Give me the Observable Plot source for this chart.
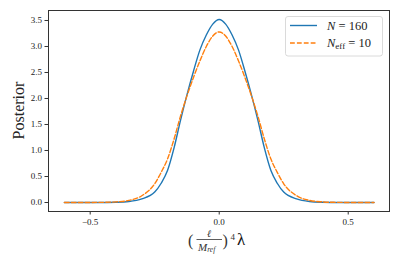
<!DOCTYPE html>
<html><head><meta charset="utf-8">
<script src="https://cdn.jsdelivr.net/npm/d3@7"></script>
<script src="https://cdn.jsdelivr.net/npm/@observablehq/plot@0.6"></script>
<style>body{margin:0;background:#fff;} svg{display:block}</style>
</head><body><div id="chart"></div>
<script>
// x values: (ℓ/M_ref)^4 λ
const lambda = [-0.6,-0.55,-0.5,-0.45,-0.4,-0.35,-0.3,-0.25,-0.225,-0.2,-0.175,-0.15,-0.125,-0.1,-0.075,-0.05,-0.025,
  0,
  0.025,0.05,0.075,0.1,0.125,0.15,0.175,0.2,0.225,0.25,0.3,0.35,0.4,0.45,0.5,0.55,0.6];
// Posterior, N = 160 (solid blue)
const posteriorN160 = [0,0,0,0.001,0.005,0.02,0.07,0.2,0.37,0.62,1.05,1.58,2.07,2.52,2.93,3.22,3.43,
  3.52,
  3.43,3.22,2.93,2.52,2.07,1.58,1.05,0.62,0.37,0.2,0.07,0.02,0.005,0.001,0,0,0];
// Posterior, N_eff = 10 (dashed orange)
const posteriorNeff10 = [0,0,0.001,0.003,0.012,0.04,0.13,0.36,0.58,0.84,1.22,1.66,2.05,2.40,2.72,3.00,3.20,
  3.28,
  3.20,3.00,2.72,2.40,2.05,1.66,1.22,0.84,0.58,0.36,0.13,0.04,0.012,0.003,0.001,0,0];
const seriesLabels = ["N = 160", "N_eff = 10"];
const xTicks = [-0.5, 0, 0.5];
const yTicks = [0, 0.5, 1, 1.5, 2, 2.5, 3, 3.5];
const colors = ["#1f77b4", "#ff7f0e"];

const serif = "Liberation Serif, DejaVu Serif, serif";
const fmt = d => (d < 0 ? "\u2212" : "") + Math.abs(d).toFixed(1);

const plot = Plot.plot({
  width: 399, height: 266,
  marginLeft: 48, marginRight: 10, marginTop: 10, marginBottom: 55,
  style: {fontFamily: serif, fontSize: "9px", color: "#222", background: "#fff"},
  x: {domain: [-0.6616, 0.660]},
  y: {domain: [-0.173, 3.692]},
  marks: [
    Plot.line(lambda, {x: d => d, y: (d, i) => posteriorN160[i], stroke: colors[0], strokeWidth: 1.4, curve: "monotone-x"}),
    Plot.line(lambda, {x: d => d, y: (d, i) => posteriorNeff10[i], stroke: colors[1], strokeWidth: 1.4, strokeDasharray: "4.8,2.1", curve: "monotone-x"}),
    Plot.frame({stroke: "#333", strokeWidth: 1}),
    Plot.axisX(xTicks, {tickSize: 3.5, tickPadding: 4, tickFormat: fmt, label: null, stroke: "#333"}),
    Plot.axisY(yTicks, {tickSize: 3.5, tickPadding: 3, tickFormat: fmt, label: null, stroke: "#333"})
  ]
});
document.getElementById("chart").appendChild(plot);

const svg = d3.select(plot);
// y label
svg.append("text").attr("transform", "translate(24,110.5) rotate(-90)")
  .attr("text-anchor", "middle").attr("font-family", serif).attr("font-size", 16).attr("fill", "#222")
  .text("Posterior");

// x label: (ℓ / M_ref)^4 λ
const xl = svg.append("g").attr("font-family", serif).attr("fill", "#333").attr("text-anchor", "start");
xl.append("text").attr("x", 188).attr("y", 245.5).attr("font-size", 16).text("(");
xl.append("text").attr("x", 209).attr("y", 237).attr("font-size", 10).attr("font-style", "italic").attr("text-anchor", "middle").text("ℓ");
xl.append("line").attr("x1", 196.5).attr("x2", 222).attr("y1", 239.5).attr("y2", 239.5).attr("stroke", "#333").attr("stroke-width", 0.8);
const m = xl.append("text").attr("x", 198).attr("y", 250.5).attr("font-size", 11).attr("font-style", "italic");
m.append("tspan").text("M");
m.append("tspan").attr("font-size", 7.5).attr("dy", 1.8).text("ref");
xl.append("text").attr("x", 222.5).attr("y", 245.5).attr("font-size", 16).text(")");
xl.append("text").attr("x", 230.5).attr("y", 239.5).attr("font-size", 9).text("4");
xl.append("text").attr("x", 237).attr("y", 245).attr("font-size", 17).attr("fill", "#111").text("λ");

// legend
const lg = svg.append("g").attr("text-anchor", "start");
lg.append("rect").attr("x", 285.5).attr("y", 16.5).attr("width", 97).attr("height", 39.5).attr("rx", 2.5)
  .attr("fill", "#fff").attr("fill-opacity", 0.8).attr("stroke", "#d6d6d6").attr("stroke-width", 0.9);
const rowsY = [25.5, 43];
seriesLabels.forEach((lab, i) => {
  const ln = lg.append("line").attr("x1", 290).attr("x2", 317).attr("y1", rowsY[i]).attr("y2", rowsY[i])
    .attr("stroke", colors[i]).attr("stroke-width", 1.4);
  if (i === 1) ln.attr("stroke-dasharray", "4.8,2.1");
  const t = lg.append("text").attr("x", 327).attr("y", rowsY[i] + 4).attr("font-family", serif)
    .attr("font-size", 12.5).attr("fill", "#222");
  const [name, rest] = lab.split(" = ");
  const parts = name.split("_");
  t.append("tspan").attr("font-style", "italic").text(parts[0]);
  if (parts[1]) t.append("tspan").attr("font-size", 9).attr("dy", 2).text(parts[1]);
  t.append("tspan").attr("dy", parts[1] ? -2 : 0).text(" = " + rest);
});
</script>
</body></html>
